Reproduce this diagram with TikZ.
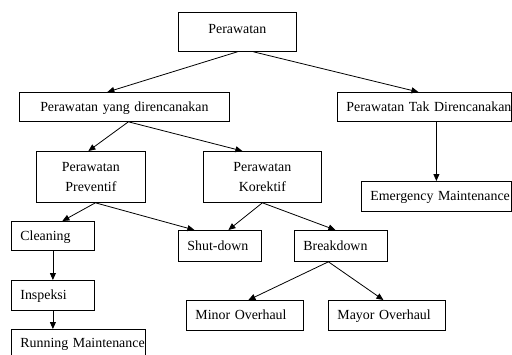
\documentclass[tikz,border=0pt]{standalone}
\usepackage{fontspec}
\setmainfont{Liberation Serif}
\usetikzlibrary{arrows.meta}
\newcommand\diafs{\fontsize{13.9}{19.4}\selectfont}
\tikzset{
  bx/.style={draw, line width=0.8pt, anchor=north west, inner ysep=0pt, font=\diafs, text height=9pt, text depth=0pt},
  bxtwo/.style={draw, line width=0.8pt, anchor=north west, inner ysep=0pt, font=\diafs, align=center, inner xsep=1pt},
  lft/.style={align=left, inner xsep=#1},
  ctr/.style={align=center, inner xsep=1pt},
  arr/.style={line width=0.8pt, -{Triangle[length=7pt,width=6pt]}}
}
\begin{document}
\begin{tikzpicture}[x=1pt,y=-1pt]
\useasboundingbox (0,0) rectangle (512,354);
\node[bx, ctr, text width=116pt, minimum height=39pt, text depth=6pt] (top) at (178,12) {Perawatan};
\node[bx, ctr, text width=208pt, minimum height=29pt] (plan) at (19,92) {\mbox{Perawatan yang direncanakan}};
\node[bx, lft=9pt, text width=156pt, minimum height=29pt] (unplan) at (337,92) {\mbox{Perawatan Tak Direncanakan}};
\node[bxtwo, text width=107pt, minimum height=51pt] (prev) at (36,151) {Perawatan\\Preventif};
\node[bxtwo, text width=116pt, minimum height=51pt] (kor) at (203,151) {Perawatan\\Korektif};
\node[bx, lft=9pt, text width=132pt, minimum height=30pt] (emerg) at (361,181) {\mbox{Emergency Maintenance}};
\node[bx, lft=9pt, text width=65pt, minimum height=29pt] (clean) at (11,221) {\mbox{Cleaning}};
\node[bx, lft=9pt, text width=65pt, minimum height=31pt] (shut) at (178,230) {\mbox{Shut-down}};
\node[bx, lft=9pt, text width=75pt, minimum height=31pt] (brk) at (294,230) {\mbox{Breakdown}};
\node[bx, lft=9pt, text width=65pt, minimum height=30pt] (insp) at (11,280) {\mbox{Inspeksi}};
\node[bx, lft=9pt, text width=116pt, minimum height=28pt] (run) at (11,329) {\mbox{Running Maintenance}};
\node[bx, lft=9pt, text width=99pt, minimum height=30pt] (minor) at (186,300) {\mbox{Minor Overhaul}};
\node[bx, lft=9pt, text width=99pt, minimum height=30pt] (mayor) at (328,300) {\mbox{Mayor Overhaul}};

\draw[arr] (top.south) -- ([xshift=-17pt]plan.north);
\draw[arr] ([xshift=16pt]top.south) -- ([xshift=-6pt]unplan.north);
\draw[arr] ([xshift=4pt]plan.south) -- ([xshift=-2.5pt]prev.north);
\draw[arr] ([xshift=4pt]plan.south) -- ([xshift=-20pt]kor.north);
\draw[arr] (unplan.south -| emerg.north) -- (emerg.north);
\draw[arr] ([xshift=4.5pt]prev.south) -- ([xshift=9.5pt]clean.north);
\draw[arr] ([xshift=4.5pt]prev.south) -- ([xshift=-25.5pt]shut.north);
\draw[arr] (kor.south) -- ([xshift=8.5pt]shut.north);
\draw[arr] (kor.south) -- ([xshift=-5.5pt]brk.north);
\draw[arr] (clean.south) -- (insp.north);
\draw[arr] (insp.south) -- (insp.south |- run.north);
\draw[arr] ([xshift=-12.5pt]brk.south) -- ([xshift=3.5pt]minor.north);
\draw[arr] ([xshift=-12.5pt]brk.south) -- ([xshift=-3.5pt]mayor.north);
\end{tikzpicture}
\end{document}
